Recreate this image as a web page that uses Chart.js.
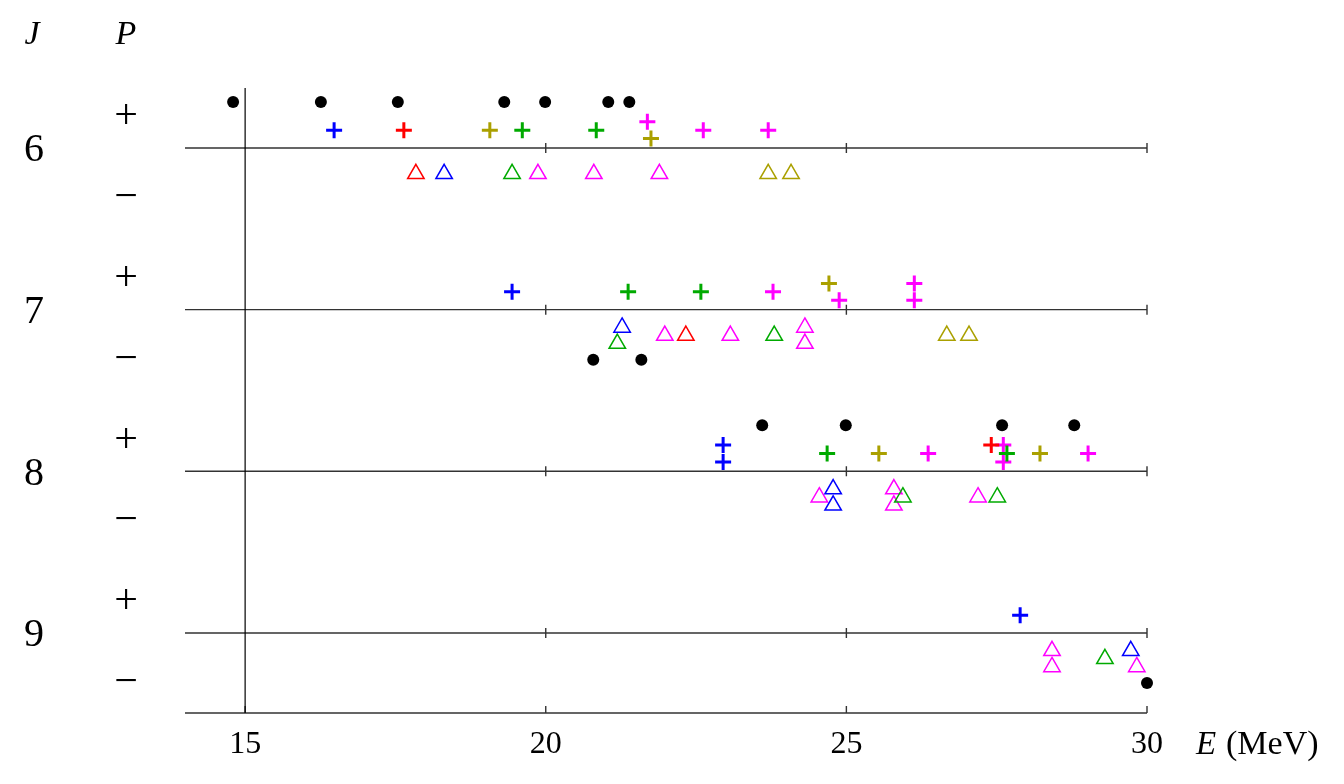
<!DOCTYPE html>
<html>
<head>
<meta charset="UTF-8">
<script src="https://cdn.jsdelivr.net/npm/chart.js@4.4.1/dist/chart.umd.min.js"></script>
<style>
  html, body { margin: 0; padding: 0; background: #fff; }
  #wrap { width: 1344px; height: 784px; position: relative; }
</style>
</head>
<body>
<div id="wrap"><canvas id="levels"></canvas></div>
<script>
// energy axis ticks and spin rows
const energyTicks = [15, 20, 25, 30];
const spins = [6, 7, 8, 9];

// black dots: [E (MeV), J, parity]
const blackDots = [
  [14.80, 6, '+'], [16.26, 6, '+'], [17.54, 6, '+'], [19.31, 6, '+'],
  [19.99, 6, '+'], [21.04, 6, '+'], [21.39, 6, '+'],
  [20.79, 7, '-'], [21.59, 7, '-'],
  [23.60, 8, '+'], [24.99, 8, '+'], [27.59, 8, '+'], [28.79, 8, '+'],
  [30.00, 9, '-']
];

// coloured states: [E (MeV), J, parity, stack (-1 upper, 0, +1 lower)]
const blueStates = [
  [16.48, 6, '+', 0], [18.31, 6, '-', 0],
  [19.44, 7, '+', 0], [21.27, 7, '-', -1],
  [22.95, 8, '+', -1], [22.95, 8, '+', 1], [24.78, 8, '-', -1], [24.78, 8, '-', 1],
  [27.89, 9, '+', 0], [29.73, 9, '-', -1]
];
const redStates = [
  [17.64, 6, '+', 0], [17.84, 6, '-', 0],
  [22.33, 7, '-', 0],
  [27.41, 8, '+', -1]
];
const oliveStates = [
  [19.07, 6, '+', 0], [21.75, 6, '+', 1], [23.70, 6, '-', 0], [24.08, 6, '-', 0],
  [24.71, 7, '+', -1], [26.67, 7, '-', 0], [27.04, 7, '-', 0],
  [25.54, 8, '+', 0], [28.22, 8, '+', 0]
];
const greenStates = [
  [19.61, 6, '+', 0], [20.84, 6, '+', 0], [19.44, 6, '-', 0],
  [21.37, 7, '+', 0], [22.58, 7, '+', 0], [21.19, 7, '-', 1], [23.80, 7, '-', 0],
  [24.68, 8, '+', 0], [27.67, 8, '+', 0], [25.94, 8, '-', 0], [27.51, 8, '-', 0],
  [29.30, 9, '-', 0]
];
const magentaStates = [
  [21.69, 6, '+', -1], [22.62, 6, '+', 0], [23.70, 6, '+', 0],
  [19.87, 6, '-', 0], [20.80, 6, '-', 0], [21.89, 6, '-', 0],
  [23.78, 7, '+', 0], [24.88, 7, '+', 1], [26.13, 7, '+', -1], [26.13, 7, '+', 1],
  [21.98, 7, '-', 0], [23.07, 7, '-', 0], [24.31, 7, '-', -1], [24.31, 7, '-', 1],
  [26.36, 8, '+', 0], [27.61, 8, '+', -1], [27.61, 8, '+', 1], [29.02, 8, '+', 0],
  [24.55, 8, '-', 0], [25.79, 8, '-', -1], [25.79, 8, '-', 1], [27.19, 8, '-', 0],
  [28.42, 9, '-', -1], [28.42, 9, '-', 1], [29.83, 9, '-', 1]
];

// where a state sits relative to its J line
function dotY(d) { return d[1] + (d[2] === '+' ? -0.285 : 0.31); }
function stateY(s) {
  if (s[2] === '+') return s[1] - 0.11 + 0.052 * s[3];
  return s[1] + 0.16 + 0.05 * s[3];
}

function coloured(list, color) {
  const plus = list.filter(s => s[2] === '+').map(s => ({ x: s[0], y: stateY(s) }));
  const tri = list.filter(s => s[2] === '-').map(s => ({ x: s[0], y: stateY(s) }));
  return [
    { data: plus, pointStyle: 'cross', pointRadius: 8, pointBorderWidth: 3,
      borderColor: color, backgroundColor: color, showLine: false },
    { data: tri, pointStyle: 'triangle', pointRadius: 9.5, pointBorderWidth: 1.5,
      borderColor: color, backgroundColor: 'rgba(0,0,0,0)', showLine: false }
  ];
}

const datasets = [
  { data: blackDots.map(d => ({ x: d[0], y: dotY(d) })), pointStyle: 'circle',
    pointRadius: 6, pointBorderWidth: 0, backgroundColor: '#000', borderColor: '#000', showLine: false }
].concat(
  coloured(blueStates, '#0000ff'),
  coloured(redStates, '#ff0000'),
  coloured(oliveStates, '#aaa000'),
  coloured(greenStates, '#00aa00'),
  coloured(magentaStates, '#ff00ff')
);

const serif = '"Liberation Serif", "DejaVu Serif", serif';

const frame = {
  id: 'frame',
  beforeDatasetsDraw(chart) {
    const ctx = chart.ctx, xs = chart.scales.x, ys = chart.scales.y;
    const a = chart.chartArea;
    ctx.save();
    ctx.strokeStyle = '#333';
    ctx.lineWidth = 1.4;
    // J lines with ticks
    spins.forEach(j => {
      const y = ys.getPixelForValue(j);
      ctx.beginPath();
      ctx.moveTo(a.left, y); ctx.lineTo(a.right, y);
      energyTicks.forEach(t => {
        if (t === energyTicks[0]) return;
        const x = xs.getPixelForValue(t);
        ctx.moveTo(x, y - 5); ctx.lineTo(x, y + 5);
      });
      ctx.stroke();
    });
    // bottom axis
    ctx.beginPath();
    ctx.moveTo(a.left, a.bottom); ctx.lineTo(a.right, a.bottom);
    energyTicks.forEach(t => {
      const x = xs.getPixelForValue(t);
      ctx.moveTo(x, a.bottom); ctx.lineTo(x, a.bottom - 7);
    });
    ctx.stroke();
    // vertical line at first tick
    const x0 = xs.getPixelForValue(energyTicks[0]);
    ctx.strokeStyle = '#000';
    ctx.lineWidth = 1.2;
    ctx.beginPath();
    ctx.moveTo(x0, a.top); ctx.lineTo(x0, a.bottom);
    ctx.stroke();
    ctx.restore();
  },
  afterDraw(chart) {
    const ctx = chart.ctx, xs = chart.scales.x, ys = chart.scales.y;
    const a = chart.chartArea;
    ctx.save();
    ctx.fillStyle = '#000';
    ctx.textAlign = 'center';
    ctx.textBaseline = 'middle';
    ctx.font = 'italic 34px ' + serif;
    ctx.fillText('J', 32, 35);
    ctx.fillText('P', 126, 35);
    spins.forEach(j => {
      ctx.font = '40px ' + serif;
      ctx.fillText(String(j), 34, ys.getPixelForValue(j) + 3);
      ctx.font = '42px ' + serif;
      ctx.fillText('+', 126, ys.getPixelForValue(j - 0.19));
      ctx.fillText('\u2212', 126, ys.getPixelForValue(j + 0.31));
    });
    ctx.font = '32px ' + serif;
    energyTicks.forEach(t => {
      ctx.fillText(String(t), xs.getPixelForValue(t), a.bottom + 32);
    });
    ctx.textAlign = 'left';
    ctx.font = 'italic 33px ' + serif;
    ctx.fillText('E', 1196, a.bottom + 32);
    ctx.font = '34px ' + serif;
    ctx.fillText('(MeV)', 1226, a.bottom + 32);
    ctx.restore();
  }
};

new Chart(document.getElementById('levels'), {
  type: 'scatter',
  data: { datasets: datasets },
  options: {
    responsive: true,
    maintainAspectRatio: false,
    animation: false,
    layout: { padding: { left: 185, right: 197, top: 88, bottom: 71 } },
    plugins: { legend: { display: false }, tooltip: { enabled: false } },
    scales: {
      x: { type: 'linear', min: 14, max: 30, display: false },
      y: { type: 'linear', min: 5.629, max: 9.495, reverse: true, display: false }
    },
    elements: { point: { hoverRadius: 8 } },
    clip: false
  },
  plugins: [frame]
});
</script>
</body>
</html>
